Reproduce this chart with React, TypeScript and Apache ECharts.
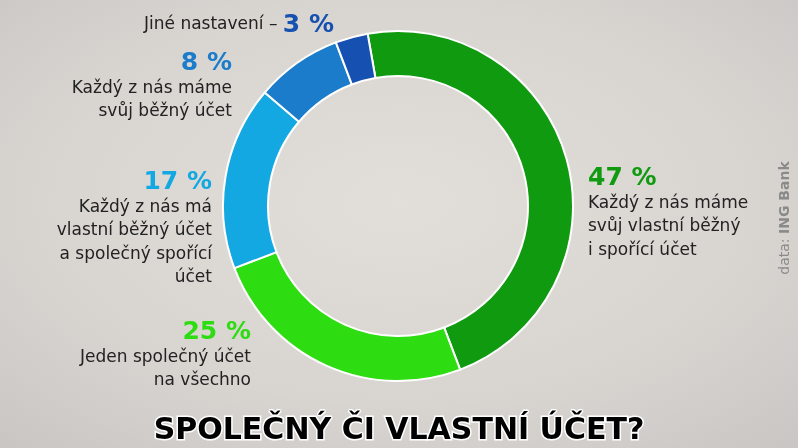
import React, { useEffect, useRef } from "react";
import * as echarts from "echarts";

const categories = [
  "Každý z nás máme svůj vlastní běžný i spořící účet",
  "Jeden společný účet na všechno",
  "Každý z nás má vlastní běžný účet a společný spořící účet",
  "Každý z nás máme svůj běžný účet",
  "Jiné nastavení",
];
const values = [47, 25, 17, 8, 3];
const colors = ["#109a10", "#2edc12", "#14a8e2", "#1a7ccb", "#1650b0"];
const labelLines = [
  ["Každý z nás máme", "svůj vlastní běžný", "i spořící účet"],
  ["Jeden společný účet", "na všechno"],
  ["Každý z nás má", "vlastní běžný účet", "a společný spořící", "účet"],
  ["Každý z nás máme", "svůj běžný účet"],
  ["Jiné nastavení –"],
];
const title = "SPOLEČNÝ ČI VLASTNÍ ÚČET?";
const source = ["data: ", "ING Bank"];

const FONT = "'DejaVu Sans', sans-serif";

export default function App() {
  const ref = useRef<HTMLDivElement>(null);
  useEffect(() => {
    if (!ref.current) return;
    const chart = echarts.init(ref.current, null, { renderer: "svg" });

    const pct = (i: number) => `${values[i]} %`;
    const block = (i: number, x: number, y: number, align: string) => [
      {
        type: "text",
        x,
        y,
        style: {
          text: pct(i),
          fill: colors[i],
          font: `bold 25px ${FONT}`,
          align,
          verticalAlign: "middle",
        },
      },
      {
        type: "text",
        x,
        y: y + 14,
        style: {
          text: labelLines[i].join("\n"),
          fill: "#222222",
          font: `17px ${FONT}`,
          lineHeight: 23.5,
          align,
          verticalAlign: "top",
        },
      },
    ];

    const graphic: any[] = [
      ...block(0, 588, 176, "left"),
      ...block(1, 251, 330, "right"),
      ...block(2, 212, 180, "right"),
      ...block(3, 232, 61, "right"),
      {
        type: "text",
        x: 334,
        y: 23,
        style: {
          text: `{a|${labelLines[4][0]} }{b|${pct(4)}}`,
          align: "right",
          verticalAlign: "middle",
          rich: {
            a: { font: `17px ${FONT}`, fill: "#222222", verticalAlign: "middle" },
            b: { font: `bold 25px ${FONT}`, fill: colors[4], verticalAlign: "middle" },
          },
        },
      },
      {
        type: "text",
        x: 399,
        y: 428,
        style: {
          text: title,
          font: `bold 30px ${FONT}`,
          fill: "#000",
          stroke: "#ffffff",
          lineWidth: 3,
          align: "center",
          verticalAlign: "middle",
        },
      },
      {
        type: "text",
        x: 784,
        y: 218,
        rotation: Math.PI / 2,
        style: {
          text: `{a|${source[0]}}{b|${source[1]}}`,
          align: "center",
          verticalAlign: "middle",
          rich: {
            a: { font: `14px ${FONT}`, fill: "#8a8a8a" },
            b: { font: `bold 14px ${FONT}`, fill: "#8a8a8a" },
          },
        },
      },
    ];

    chart.setOption({
      animation: false,
      backgroundColor: {
        type: "radial",
        x: 0.5,
        y: 0.45,
        r: 0.75,
        colorStops: [
          { offset: 0, color: "#e2dfdb" },
          { offset: 0.6, color: "#d8d5d1" },
          { offset: 1, color: "#c8c5c3" },
        ],
      },
      series: [
        {
          type: "pie",
          center: [398, 206],
          radius: [130, 175],
          startAngle: 100,
          clockwise: true,
          label: { show: false },
          labelLine: { show: false },
          emphasis: { disabled: true },
          itemStyle: { borderColor: "#ffffff", borderWidth: 2 },
          data: values.map((v, i) => ({
            name: categories[i],
            value: v,
            itemStyle: { color: colors[i] },
          })),
        },
      ],
      graphic,
    });
    return () => chart.dispose();
  }, []);
  return (
    <div
      ref={ref}
      style={{ position: "fixed", left: 0, top: 0, width: 798, height: 448 }}
    />
  );
}
